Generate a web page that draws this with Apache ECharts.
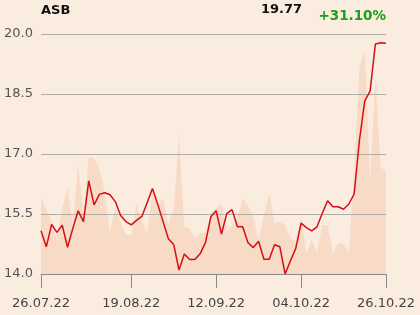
<!DOCTYPE html>
<html>
<head>
<meta charset="utf-8">
<script src="https://cdn.jsdelivr.net/npm/echarts@6/dist/echarts.min.js"></script>
<style>
html,body{margin:0;padding:0;background:#fbece0;}
#c{width:420px;height:315px;}
</style>
</head>
<body>
<div id="c"></div>
<script>
var dates = ['26.07.22','27.07.22','28.07.22','29.07.22',
'01.08.22','02.08.22','03.08.22','04.08.22','05.08.22',
'08.08.22','09.08.22','10.08.22','11.08.22','12.08.22',
'16.08.22','17.08.22','18.08.22','19.08.22',
'22.08.22','23.08.22','24.08.22','25.08.22','26.08.22',
'29.08.22','30.08.22','31.08.22','01.09.22','02.09.22',
'05.09.22','06.09.22','07.09.22','08.09.22','09.09.22',
'12.09.22','13.09.22','14.09.22','15.09.22','16.09.22',
'19.09.22','20.09.22','21.09.22','22.09.22','23.09.22',
'26.09.22','27.09.22','28.09.22','29.09.22','30.09.22',
'03.10.22','04.10.22','05.10.22','06.10.22','07.10.22',
'10.10.22','11.10.22','12.10.22','13.10.22','14.10.22',
'17.10.22','18.10.22','19.10.22','20.10.22','21.10.22',
'24.10.22','25.10.22','26.10.22'];

var tickLabels = ['26.07.22','19.08.22','12.09.22','04.10.22','26.10.22'];

var price = [15.08,14.68,15.24,15.04,15.22,14.67,15.14,15.58,15.31,16.33,
15.73,15.99,16.03,15.98,15.81,15.46,15.31,15.23,15.34,15.44,
15.78,16.14,15.74,15.31,14.88,14.74,14.10,14.50,14.36,14.36,
14.51,14.79,15.43,15.58,15.00,15.51,15.61,15.18,15.18,14.78,
14.66,14.82,14.37,14.37,14.73,14.68,14.00,14.33,14.64,15.27,
15.16,15.08,15.18,15.52,15.83,15.68,15.68,15.62,15.75,16.00,
17.35,18.33,18.57,19.75,19.78,19.77];

var volume = [77,64,54,34,66,86,49,111,59,117,
116,106,82,41,67,52,39,39,70,52,
41,82,69,76,49,66,139,47,46,36,
41,42,61,66,71,42,49,56,76,69,
56,34,59,81,51,52,49,36,32,57,
21,34,21,49,49,21,31,30,21,104,
207,224,91,199,107,102];

var yTicks = {min:14, max:20, interval:1.5};

var chart = echarts.init(document.getElementById('c'), null, {renderer:'canvas'});
var showIdx = function(idx){ return tickLabels.indexOf(dates[idx]) >= 0; };
chart.setOption({
  backgroundColor:'#fbece0',
  animation:false,
  textStyle:{fontFamily:'DejaVu Sans'},
  grid:{left:41, right:34, top:34, bottom:41},
  graphic:[
    {type:'text', left:41, top:4, z:10, style:{text:'ASB', font:'bold 13px "DejaVu Sans"', fill:'#111'}},
    {type:'text', right:118, top:3, z:10, style:{text:'19.77', font:'bold 13px "DejaVu Sans"', fill:'#111'}},
    {type:'text', right:34, top:9, z:10, style:{text:'+31.10%', font:'bold 13.5px "DejaVu Sans"', fill:'#1aa01a'}}
  ],
  xAxis:{
    type:'category', data:dates, boundaryGap:false,
    axisLine:{show:true, lineStyle:{color:'#8a8a8a', width:1}},
    axisTick:{show:true, length:14, interval:showIdx, lineStyle:{color:'#8a8a8a'}},
    axisLabel:{interval:showIdx, color:'#444', fontSize:13, margin:23, fontFamily:'DejaVu Sans'},
    splitLine:{show:false},
    z:3
  },
  yAxis:[{
    type:'value', min:yTicks.min, max:yTicks.max, interval:yTicks.interval,
    axisLine:{show:false}, axisTick:{show:false},
    axisLabel:{color:'#555', fontSize:13, margin:8, fontFamily:'DejaVu Sans',
      formatter:function(v){return v.toFixed(1);}},
    splitLine:{lineStyle:{color:'#b3ada8', width:1}},
    z:1.5
  },{
    type:'value', min:0, max:240, show:false, splitLine:{show:false}
  }],
  series:[{
    type:'line', data:volume, yAxisIndex:1, symbol:'none', z:1,
    lineStyle:{width:0}, areaStyle:{color:'#f8dbc7', opacity:1}
  },{
    type:'line', data:price, yAxisIndex:0, symbol:'none', z:2,
    lineStyle:{color:'#d40f14', width:1.5}
  }]
});
</script>
</body>
</html>
